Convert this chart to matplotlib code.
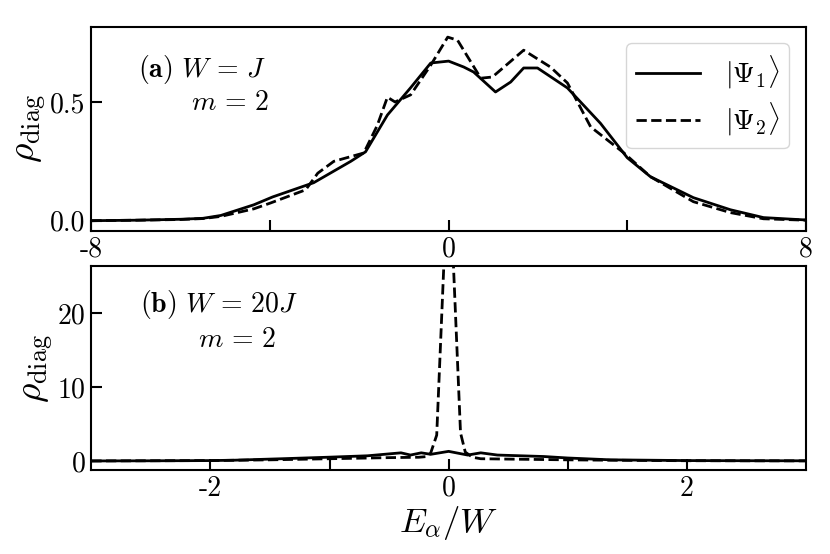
import numpy as np
import matplotlib.pyplot as plt

plt.rcParams['mathtext.fontset'] = 'cm'
plt.rcParams['font.family'] = 'serif'
plt.rcParams['font.serif'] = ['cmr10']
plt.rcParams['axes.unicode_minus'] = False

# panel (a): W = J
Ea = [-8, -7, -6, -5.5, -5.1, -4.36, -3.94, -3.02, -2.19, -1.86, -1.37, -0.85,
      -0.4, 0.0, 0.34, 0.56, 1.05, 1.39, 1.68, 1.99, 2.66, 3.4, 4.0, 4.52,
      5.48, 6.31, 7.05, 8]
rho1a = [0.0, 0.002, 0.006, 0.01, 0.022, 0.067, 0.10, 0.16, 0.25, 0.29, 0.445, 0.56,
         0.664, 0.672, 0.647, 0.626, 0.542, 0.584, 0.643, 0.643, 0.559, 0.41, 0.265, 0.185,
         0.097, 0.046, 0.013, 0.003]

Ea2 = [-8, -7, -6, -5.5, -5.1, -4.36, -3.98, -3.2, -2.93, -2.57, -1.9, -1.6, -1.37,
       -1.2, -0.85, -0.4, -0.02, 0.2, 0.72, 0.98, 1.68, 2.28, 2.66, 3.18, 3.92,
       4.52, 5.48, 6.31, 7.05, 8]
rho2a = [0.0, 0.002, 0.005, 0.009, 0.018, 0.05, 0.075, 0.13, 0.20, 0.25, 0.285, 0.40, 0.52,
         0.50, 0.53, 0.655, 0.773, 0.76, 0.60, 0.605, 0.718, 0.647, 0.58, 0.395, 0.286,
         0.185, 0.08, 0.034, 0.008, 0.002]

# panel (b): W = 20J
Eb1 = [-3, -2.5, -2, -1.8, -1.4, -1.02, -0.68, -0.4, -0.32, -0.23, -0.15, 0.0,
       0.16, 0.27, 0.41, 0.8, 1.0, 1.36, 2.0, 2.5, 3]
rho1b = [0.0, 0.02, 0.05, 0.1, 0.3, 0.5, 0.7, 1.1, 0.8, 1.1, 0.9, 1.3,
         0.8, 1.1, 0.8, 0.6, 0.4, 0.15, 0.05, 0.03, 0.02]

Eb2 = [-3, -2, -1.5, -1.0, -0.5, -0.25, -0.18, -0.15, -0.1, 0.0, 0.1, 0.14,
       0.2, 0.27, 0.5, 1.0, 1.5, 2.0, 3]
rho2b = [0.0, 0.05, 0.15, 0.3, 0.45, 0.5, 0.6, 1.1, 3.5, 42.0, 3.8, 1.2,
         0.5, 0.3, 0.25, 0.15, 0.08, 0.03, 0.01]

fig, (ax1, ax2) = plt.subplots(2, 1, figsize=(8.3, 5.54), dpi=100)
fig.subplots_adjust(left=0.11, right=0.971, top=0.951, bottom=0.152, hspace=0.175)

fs = 20
lfs = 27
ax1.plot(Ea, rho1a, color='black', lw=2, label=r'$|\Psi_1\rangle$')
ax1.plot(Ea2, rho2a, color='black', lw=2, ls='--', label=r'$|\Psi_2\rangle$')
ax1.set_xlim(-8, 8)
ax1.set_ylim(-0.042, 0.815)
ax1.set_xticks([-8, -4, 0, 4, 8])
ax1.set_xticklabels(['-8', '', '0', '', '8'])
ax1.set_yticks([0, 0.5])
ax1.set_yticklabels(['0.0', '0.5'])
ax1.set_ylabel(r'$\rho_{\rm diag}$', fontsize=lfs, labelpad=2)
ax1.text(0.066, 0.79, r'$\mathbf{(a)}\ W\,=\,J$', transform=ax1.transAxes, fontsize=fs, va='center')
ax1.text(0.139, 0.63, r'$m\,=\,2$', transform=ax1.transAxes, fontsize=fs, va='center')
leg = ax1.legend(loc='upper right', fontsize=fs, handlelength=2.3, borderpad=0.35,
                 labelspacing=0.35, handletextpad=0.9, borderaxespad=0,
                 bbox_to_anchor=(0.976, 0.92))

ax2.plot(Eb1, rho1b, color='black', lw=2)
ax2.plot(Eb2, rho2b, color='black', lw=2, ls='--')
ax2.set_xlim(-3, 3)
ax2.set_ylim(-1.2, 26.4)
ax2.set_xticks([-2, -1, 0, 1, 2])
ax2.set_xticklabels(['-2', '', '0', '', '2'])
ax2.set_yticks([0, 10, 20])
ax2.set_ylabel(r'$\rho_{\rm diag}$', fontsize=lfs, labelpad=2)
ax2.set_xlabel(r'$E_\alpha/W$', fontsize=25, labelpad=2)
ax2.text(0.068, 0.81, r'$\mathbf{(b)}\ W\,=\,20J$', transform=ax2.transAxes, fontsize=fs, va='center')
ax2.text(0.15, 0.64, r'$m\,=\,2$', transform=ax2.transAxes, fontsize=fs, va='center')

for ax in (ax1, ax2):
    ax.tick_params(direction='in', length=8, width=1.5, labelsize=fs, pad=4)
    for s in ax.spines.values():
        s.set_linewidth(1.5)

plt.savefig('out.png', dpi=100)
